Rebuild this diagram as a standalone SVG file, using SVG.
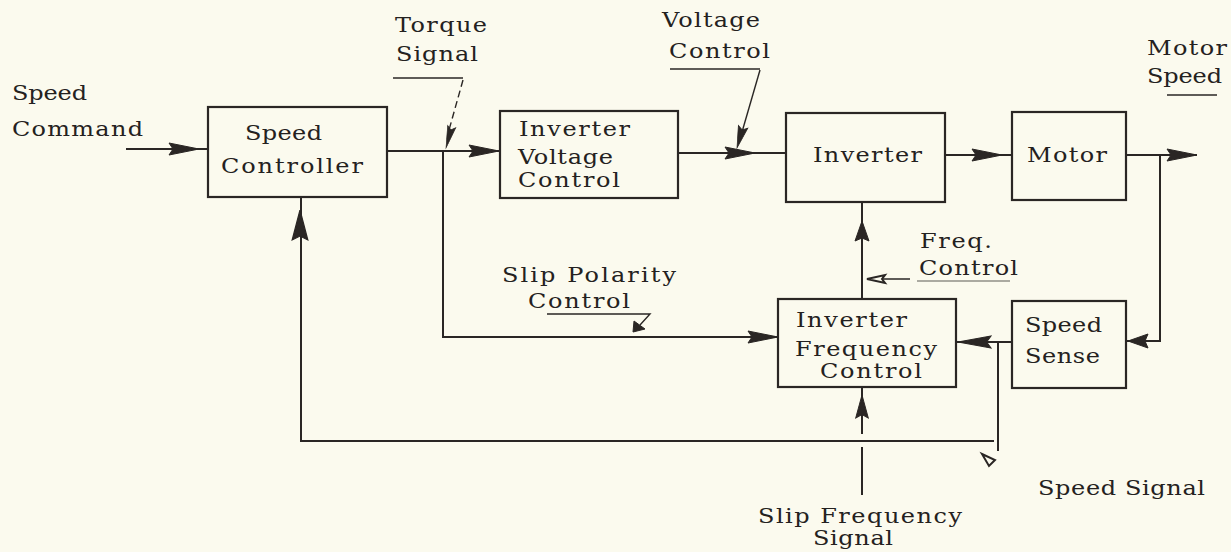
<svg xmlns="http://www.w3.org/2000/svg" width="1231" height="552" viewBox="0 0 1231 552">
<style>
.bg{fill:#fbfaee}
.box{fill:none;stroke:#2a2624;stroke-width:2.2}
.ln{fill:none;stroke:#2a2624;stroke-width:2}
.thin{fill:none;stroke:#2a2624;stroke-width:1.4}
.ah{fill:#2a2624;stroke:#2a2624;stroke-width:1}
.oah{fill:#fbfaee;stroke:#2a2624;stroke-width:2}
text{font-family:"DejaVu Serif","Liberation Serif",serif;font-size:20px;fill:#242120}
</style>
<defs>
<path id="ahR" d="M0,0 L-30,-6 L-26,0 L-30,6 Z"/>
<path id="ahS" d="M0,0 L-20,-7 L-17,0 L-20,7 Z"/>
</defs>
<rect class="bg" x="0" y="0" width="1231" height="552"/>

<g id="speed-command">
<text transform="translate(12,100) scale(1.2,1)" textLength="62.5" lengthAdjust="spacing">Speed</text>
<text transform="translate(12,136) scale(1.2,1)" textLength="109.2" lengthAdjust="spacing">Command</text>
</g>
<g id="speed-controller">
<rect class="box" x="208" y="107" width="179" height="90"/>
<text transform="translate(245,140) scale(1.2,1)" textLength="64.2" lengthAdjust="spacing">Speed</text>
<text transform="translate(221,173) scale(1.2,1)" textLength="118.3" lengthAdjust="spacing">Controller</text>
</g>
<g id="torque-signal">
<text transform="translate(395,32) scale(1.2,1)" textLength="76.7" lengthAdjust="spacing">Torque</text>
<text transform="translate(396,61) scale(1.2,1)" textLength="68.3" lengthAdjust="spacing">Signal</text>
</g>
<g id="inverter-voltage-control">
<rect class="box" x="500" y="111" width="178" height="87"/>
<text transform="translate(519,136) scale(1.2,1)" textLength="92.5" lengthAdjust="spacing">Inverter</text>
<text transform="translate(518,164) scale(1.2,1)" textLength="79.2" lengthAdjust="spacing">Voltage</text>
<text transform="translate(518,187) scale(1.2,1)" textLength="85" lengthAdjust="spacing">Control</text>
</g>
<g id="voltage-control">
<text transform="translate(662,27) scale(1.2,1)" textLength="81.7" lengthAdjust="spacing">Voltage</text>
<text transform="translate(669,58) scale(1.2,1)" textLength="84.2" lengthAdjust="spacing">Control</text>
</g>
<g id="inverter">
<rect class="box" x="786" y="113" width="159" height="89"/>
<text transform="translate(813,162) scale(1.2,1)" textLength="90.8" lengthAdjust="spacing">Inverter</text>
</g>
<g id="motor">
<rect class="box" x="1012" y="112" width="114" height="88"/>
<text transform="translate(1027,162) scale(1.2,1)" textLength="66.7" lengthAdjust="spacing">Motor</text>
</g>
<g id="motor-speed">
<text transform="translate(1147,55) scale(1.2,1)" textLength="66.7" lengthAdjust="spacing">Motor</text>
<text transform="translate(1147,83) scale(1.2,1)" textLength="62.5" lengthAdjust="spacing">Speed</text>
</g>
<g id="freq-control">
<text transform="translate(920,248) scale(1.2,1)" textLength="60" lengthAdjust="spacing">Freq.</text>
<text transform="translate(919,275) scale(1.2,1)" textLength="82.5" lengthAdjust="spacing">Control</text>
</g>
<g id="slip-polarity-control">
<text transform="translate(502,282) scale(1.2,1)" textLength="145" lengthAdjust="spacing">Slip Polarity</text>
<text transform="translate(528,308) scale(1.2,1)" textLength="85" lengthAdjust="spacing">Control</text>
</g>
<g id="inverter-frequency-control">
<rect class="box" x="778" y="299" width="178" height="88"/>
<text transform="translate(796,327) scale(1.2,1)" textLength="92.5" lengthAdjust="spacing">Inverter</text>
<text transform="translate(795,356) scale(1.2,1)" textLength="118.3" lengthAdjust="spacing">Frequency</text>
<text transform="translate(820,378) scale(1.2,1)" textLength="85" lengthAdjust="spacing">Control</text>
</g>
<g id="speed-sense">
<rect class="box" x="1012" y="301" width="114" height="87"/>
<text transform="translate(1025,332) scale(1.2,1)" textLength="64.2" lengthAdjust="spacing">Speed</text>
<text transform="translate(1025,363) scale(1.2,1)" textLength="62.5" lengthAdjust="spacing">Sense</text>
</g>
<g id="speed-signal">
<text transform="translate(1038,495) scale(1.2,1)" textLength="139.2" lengthAdjust="spacing">Speed Signal</text>
</g>
<g id="slip-frequency-signal">
<text transform="translate(758,523) scale(1.2,1)" textLength="170" lengthAdjust="spacing">Slip Frequency</text>
<text transform="translate(813,545) scale(1.2,1)" textLength="66.7" lengthAdjust="spacing">Signal</text>
</g>

<g id="connectors">
<path class="ln" d="M126,149 H208"/>
<path class="ln" d="M387,151 H500"/>
<path class="ln" d="M443,151 V337 H778"/>
<path class="ln" d="M678,153 H786"/>
<path class="ln" d="M945,155 H1012"/>
<path class="ln" d="M1126,155 H1197"/>
<path class="ln" d="M1160,155 V341 H1126"/>
<path class="ln" d="M1012,342 H956"/>
<path class="ln" d="M998,342 V451"/>
<path class="ln" d="M994,441 H301 V197"/>
<path class="ln" d="M862,299 V202"/>
<path class="ln" d="M862,495 V447 M862,434 V387"/>
<use href="#ahR" class="ah" transform="translate(199,149)"/>
<use href="#ahR" class="ah" transform="translate(499,151)"/>
<use href="#ahR" class="ah" transform="translate(755,153)"/>
<use href="#ahR" class="ah" transform="translate(1002,155)"/>
<use href="#ahR" class="ah" transform="translate(1197,155)"/>
<use href="#ahR" class="ah" transform="translate(778,337)"/>
<use href="#ahS" class="ah" transform="translate(1128,341) rotate(180)"/>
<use href="#ahR" class="ah" transform="translate(958,342) rotate(180) scale(1.1,1)"/>
<use href="#ahR" class="ah" transform="translate(300,210) rotate(-90) scale(1,1.3)"/>
<use href="#ahS" class="ah" transform="translate(862,221) rotate(-90)"/>
<use href="#ahS" class="ah" transform="translate(862,395) rotate(-90) scale(1.15,0.9)"/>
<path class="thin" d="M393,78 H463"/>
<path class="thin" d="M463,80 L449,130" stroke-dasharray="7 4"/>
<use href="#ahS" class="ah" transform="translate(446,148) rotate(105) scale(1.1,0.6)"/>
<path class="thin" d="M670,69 H760"/>
<path class="thin" d="M760,70 L742,132"/>
<use href="#ahS" class="ah" transform="translate(737,148) rotate(106) scale(1.1,0.7)"/>
<path class="thin" d="M877,279 H910"/>
<path class="thin" d="M917,281 H1010" stroke-opacity="0.5"/>
<path class="oah" d="M867,279 L885,275 L882,279 L885,283 Z"/>
<path class="thin" d="M1167,95 H1217"/>
<path class="thin" d="M547,314 H650 L640,325"/>
<path class="ah" d="M633,332 L634,321 L645,329 Z"/>
<path class="oah" d="M982,454 L995,460 L989,466 Z"/>
</g>
</svg>
